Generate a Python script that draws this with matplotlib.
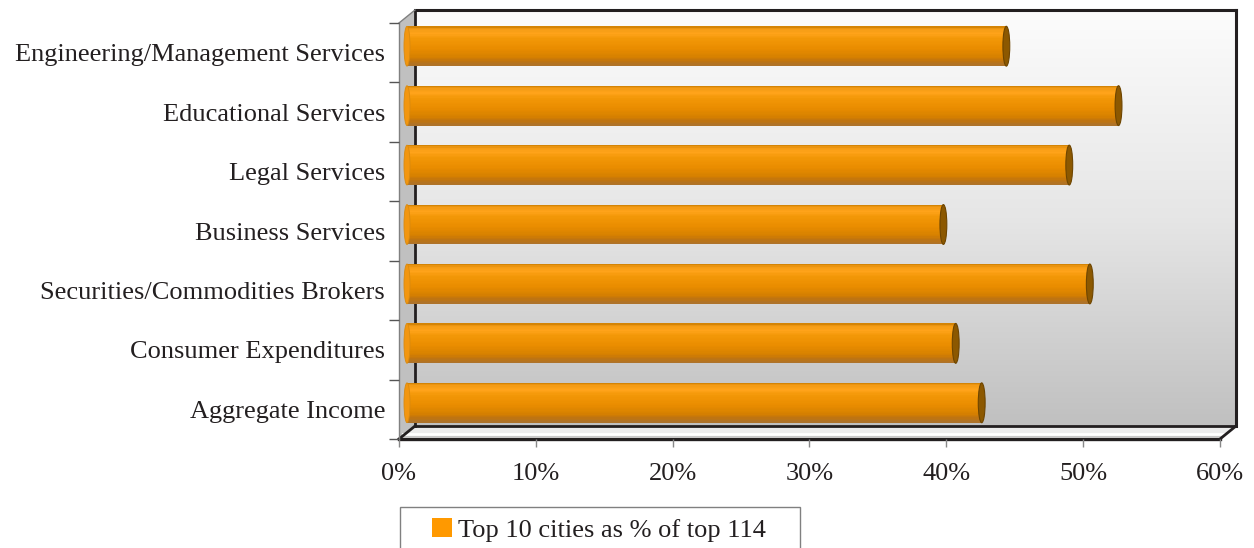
import numpy as np
import matplotlib
matplotlib.use("Agg")
import matplotlib.pyplot as plt
from matplotlib.patches import Polygon, Ellipse, Rectangle, Patch
from matplotlib.lines import Line2D
from matplotlib.colors import LinearSegmentedColormap
from matplotlib.transforms import ScaledTranslation

# ---------------- data ----------------
categories = ["Engineering/Management Services", "Educational Services", "Legal Services",
              "Business Services", "Securities/Commodities Brokers", "Consumer Expenditures",
              "Aggregate Income"]
values = [43.8, 52.0, 48.4, 39.2, 49.9, 40.1, 42.0]
xticks = [0, 10, 20, 30, 40, 50, 60]
xticklabels = ["0%", "10%", "20%", "30%", "40%", "50%", "60%"]
legend_label = "Top 10 cities as % of top 114"

plt.rcParams['font.family'] = ['Liberation Serif', 'DejaVu Serif']
TXT = '#231f20'
FS = 19

W, H = 1254, 548
fig = plt.figure(figsize=(W / 100, H / 100), dpi=100)


def fx(px):
    return px / W


def fy(py):
    return 1 - py / H


# geometry (pixels)
FL, FR, FT, FB = 399, 1220, 23, 439   # front plane
DX, DY = 16, 13                       # depth offset

# back wall with gradient
bg = fig.add_axes([fx(FL + DX), fy(FB - DY), (FR - FL) / W, (FB - FT) / H], zorder=0)
grad = np.linspace(0, 1, 256).reshape(-1, 1)
wall_cmap = LinearSegmentedColormap.from_list("wall", ["#fcfcfc", "#e6e6e6", "#c0c0c0"])
bg.imshow(grad, aspect='auto', cmap=wall_cmap, extent=(0, 1, 0, 1), origin='upper')
bg.set_axis_off()

# side wall and floor
side = Polygon([(fx(FL), fy(FT)), (fx(FL + DX), fy(FT - DY)), (fx(FL + DX), fy(FB - DY)), (fx(FL), fy(FB))],
               closed=True, transform=fig.transFigure, facecolor="#c0c0c0", edgecolor="none", zorder=1)
floor = Polygon([(fx(FL), fy(FB)), (fx(FL + DX), fy(FB - DY)), (fx(FR + DX), fy(FB - DY)), (fx(FR), fy(FB))],
                closed=True, transform=fig.transFigure, facecolor="#ececec", edgecolor="none", zorder=1)
fig.patches.extend([side, floor])


def fline(p1, p2, color, lw, z=1.5):
    fig.lines.append(Line2D([fx(p1[0]), fx(p2[0])], [fy(p1[1]), fy(p2[1])],
                            transform=fig.transFigure, color=color, lw=lw, zorder=z,
                            solid_capstyle='projecting'))


# floor highlight
fline((FL + 4, FB - 5), (FR + 4, FB - 5), "#ffffff", 2.0)
fline((FL + 2, FB - 3), (FR + 2, FB - 3), "#c8c8c8", 0.8)
# back wall frame
dark = "#231f20"
fline((FL + DX, FT - DY), (FR + DX, FT - DY), dark, 2.2)
fline((FR + DX, FT - DY), (FR + DX, FB - DY), dark, 2.2)
fline((FL + DX, FT - DY), (FL + DX, FB - DY), dark, 2.0)
fline((FL + DX, FB - DY), (FR + DX, FB - DY), dark, 2.0)
# floor front edges
fline((FL, FB), (FR, FB), dark, 2.4)
fline((FR, FB), (FR + DX, FB - DY), dark, 2.0)
fline((FL, FB), (FL + DX, FB - DY), dark, 2.0)
# side wall outer edges
fline((FL, FT), (FL, FB), "#808080", 1.0)
fline((FL, FT), (FL + DX, FT - DY), "#808080", 1.0)

# main axes (front plane)
ax = fig.add_axes([fx(FL), fy(FB), (FR - FL) / W, (FB - FT) / H], zorder=2)
ax.patch.set_alpha(0)
for s in ax.spines.values():
    s.set_visible(False)

n = len(categories)
ypos = np.arange(n)
ax.set_xlim(0, 60)
ax.set_ylim(n - 0.5, -0.5)

# bars at half depth
off = ScaledTranslation(DX / 2 / 100, DY / 2 / 100, fig.dpi_scale_trans)
tr = ax.transData + off

bar_cmap = LinearSegmentedColormap.from_list("cyl", [
    (0.0, "#c97c00"), (0.06, "#f39b14"), (0.18, "#ffa31a"), (0.3, "#f39808"),
    (0.55, "#ea8d00"), (0.78, "#d68000"), (0.88, "#bf7410"), (1.0, "#ab732e")])
h = 0.67
NS = 30
for i in range(NS):
    frac = (i + 0.5) / NS
    ax.barh(ypos - h / 2 + frac * h, values, height=h / NS + 0.002, left=0,
            color=bar_cmap(frac), linewidth=0, transform=tr, zorder=3)

for y, v in zip(ypos, values):
    ax.add_patch(Ellipse((0, y), width=0.44, height=h, transform=tr,
                         facecolor="#f29610", edgecolor="#d88a10", lw=0.6, zorder=3.5))
    ax.add_patch(Ellipse((v, y), width=0.5, height=h, transform=tr,
                         facecolor="#8c5800", edgecolor="#6e4500", lw=0.8, zorder=4))

# ticks
ax.set_xticks(xticks)
ax.set_xticklabels(xticklabels, fontsize=FS, color=TXT)
ax.tick_params(axis='x', direction='out', length=6, width=1, color="#888888", pad=11)
ax.set_yticks(ypos)
ax.set_yticklabels(categories, fontsize=FS, color=TXT)
ax.tick_params(axis='y', which='major', length=0, pad=10)
ax.set_yticks(np.arange(n + 1) - 0.5, minor=True)
ax.tick_params(axis='y', which='minor', direction='out', length=7.5, width=1, color="#555555")
ax.tick_params(axis='x', which='minor', length=0)

# legend
fig.patches.append(Rectangle((fx(400), fy(565)), (800 - 400) / W, (565 - 507) / H,
                             transform=fig.transFigure, facecolor='white', edgecolor='#808080',
                             lw=1.0, zorder=1))
handle = Patch(facecolor="#ff9900", edgecolor="none")
fig.legend(handles=[handle], labels=[legend_label], loc='center left',
           bbox_to_anchor=(fx(432), fy(530)), bbox_transform=fig.transFigure,
           frameon=False, fontsize=FS, handlelength=0.75, handleheight=0.75,
           handletextpad=0.25, borderpad=0, borderaxespad=0, labelcolor=TXT)

fig.savefig("out.png", dpi=100)
